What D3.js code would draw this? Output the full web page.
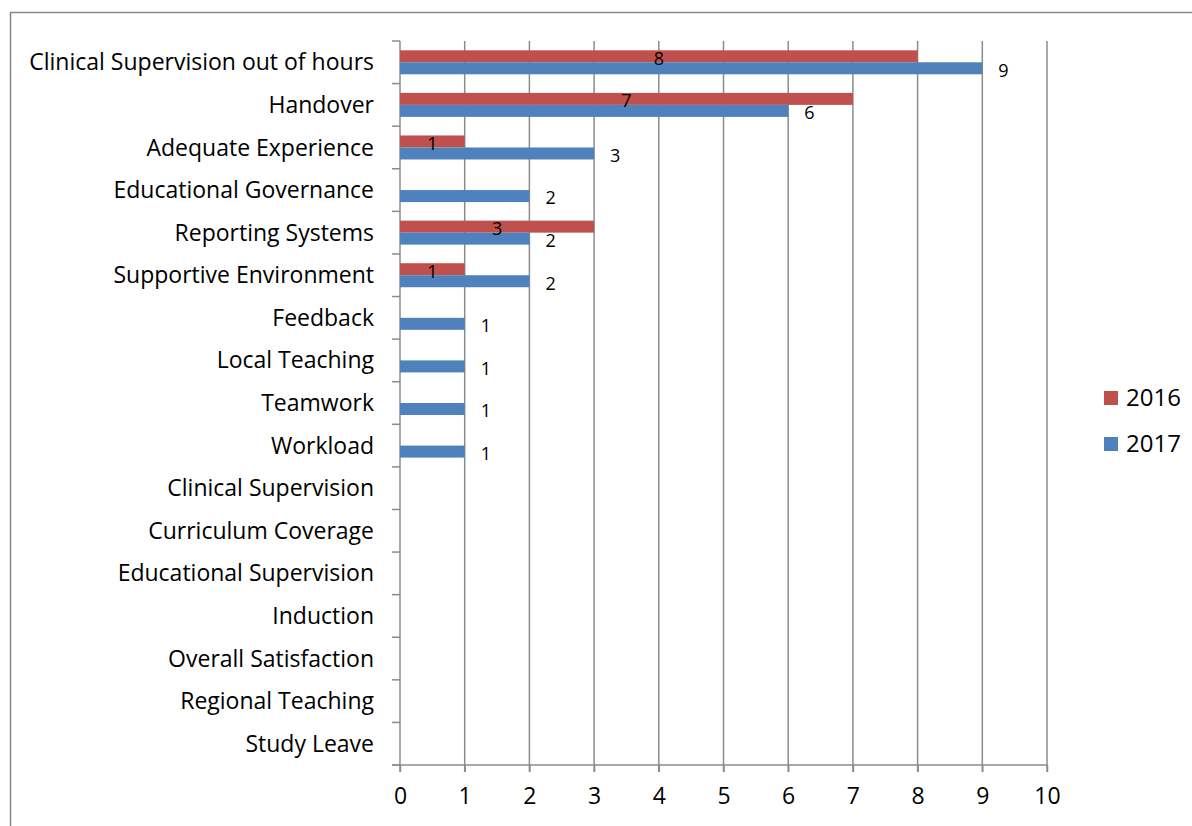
<!DOCTYPE html>
<html><head><meta charset="utf-8">
<script src="https://cdn.jsdelivr.net/npm/d3@7"></script>
<style>body{margin:0;background:#fff}svg{display:block}text{font-family:"Open Sans","Noto Sans",sans-serif}</style>
</head><body>
<script>
const categories = ["Clinical Supervision out of hours","Handover","Adequate Experience","Educational Governance","Reporting Systems","Supportive Environment","Feedback","Local Teaching","Teamwork","Workload","Clinical Supervision ","Curriculum Coverage","Educational Supervision","Induction","Overall Satisfaction","Regional Teaching","Study Leave"];
const values2016 = [8,7,1,null,3,1,null,null,null,null,null,null,null,null,null,null,null];
const values2017 = [9,6,3,2,2,2,1,1,1,1,null,null,null,null,null,null,null];
const seriesNames = ["2016","2017"];
const xTicks = [0,1,2,3,4,5,6,7,8,9,10];
const colors = ["#C0504D","#4F81BD"];

const W=1192,H=826;
const svg=d3.select("body").append("svg").attr("width",W).attr("height",H);
svg.append("rect").attr("x",10.5).attr("y",12.5).attr("width",W).attr("height",H).attr("fill","none").attr("stroke","#868686").attr("stroke-width",1.5);

const m={l:400,r:1047,t:41,b:765};
const x=d3.scaleLinear().domain([0,10]).range([m.l,m.r]);
const y=d3.scaleBand().domain(categories).range([m.t,m.b]);
const inner=d3.scaleBand().domain(seriesNames).range([0,24]);
const off=(y.bandwidth()-24)/2;
const grey="#8c8c8c";

const g=svg.append("g");
g.selectAll("line.grid").data(xTicks.slice(1)).join("line")
 .attr("x1",d=>x(d)).attr("x2",d=>x(d)).attr("y1",m.t).attr("y2",m.b+7)
 .attr("stroke",grey).attr("stroke-width",1.5);
const xa=svg.append("g").attr("transform",`translate(0,${m.b})`).call(d3.axisBottom(x).tickValues(xTicks).tickSize(7).tickPadding(16).tickSizeOuter(0));
xa.select(".domain").attr("d",`M${m.l-8},0H${m.r}`).attr("stroke",grey).attr("stroke-width",1.5);
xa.selectAll(".tick line").attr("stroke",grey).attr("stroke-width",1.5);
xa.selectAll(".tick text").attr("font-size",23).attr("fill","#000");

svg.append("line").attr("x1",m.l).attr("x2",m.l).attr("y1",m.t).attr("y2",m.b+7).attr("stroke",grey).attr("stroke-width",1.5);
const bounds=categories.map(c=>y(c)).concat([m.b]);
svg.selectAll("line.yt").data(bounds).join("line").attr("x1",m.l-8).attr("x2",m.l).attr("y1",d=>d).attr("y2",d=>d).attr("stroke",grey).attr("stroke-width",1.5);
svg.selectAll("text.cat").data(categories).join("text")
 .attr("x",374).attr("y",d=>y(d)+y.bandwidth()/2).attr("dy","0.35em").attr("text-anchor","end")
 .attr("font-size",23).attr("fill","#000").text(d=>d);

const series=[values2016,values2017];
series.forEach((vals,si)=>{
  const data=categories.map((c,i)=>({c,v:vals[i]})).filter(d=>d.v!=null);
  svg.selectAll(null).data(data).join("rect")
   .attr("x",x(0)).attr("y",d=>y(d.c)+off+inner(seriesNames[si])).attr("width",d=>x(d.v)-x(0)).attr("height",inner.bandwidth())
   .attr("fill",colors[si]);
});
svg.selectAll(null).data(categories.map((c,i)=>({c,v:values2016[i]})).filter(d=>d.v!=null)).join("text")
 .attr("x",d=>x(d.v/2)).attr("y",d=>y(d.c)+off+inner("2016")+inner.bandwidth()/2+2).attr("dy","0.35em")
 .attr("text-anchor","middle").attr("font-size",18).attr("fill","#000").text(d=>d.v);
svg.selectAll(null).data(categories.map((c,i)=>({c,v:values2017[i]})).filter(d=>d.v!=null)).join("text")
 .attr("x",d=>x(d.v)+16).attr("y",d=>y(d.c)+off+inner("2017")+inner.bandwidth()/2+2).attr("dy","0.35em")
 .attr("text-anchor","start").attr("font-size",18).attr("fill","#000").text(d=>d.v);

const lg=svg.append("g");
seriesNames.forEach((s,i)=>{
  lg.append("rect").attr("x",1104).attr("y",391+i*46).attr("width",14).attr("height",14).attr("fill",colors[i]);
  lg.append("text").attr("x",1126).attr("y",398+i*46).attr("dy","0.35em").attr("font-size",24).attr("fill","#000").text(s);
});
</script>
</body></html>
